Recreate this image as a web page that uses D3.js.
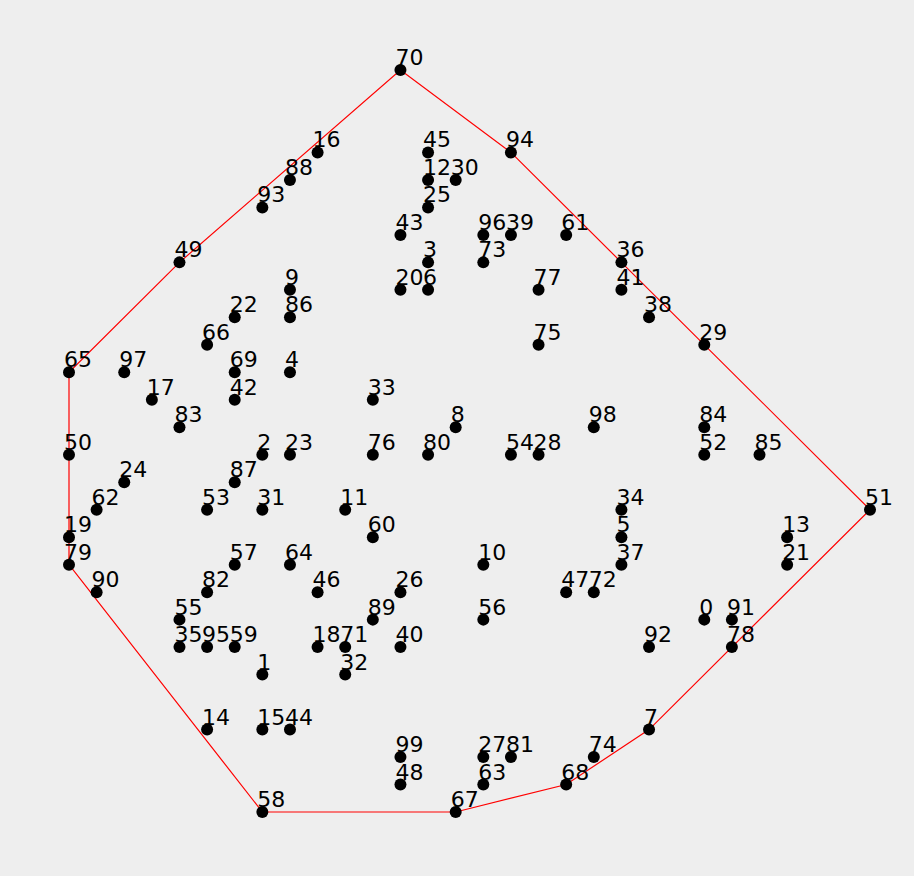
<!DOCTYPE html>
<html>
<head>
<meta charset="utf-8">
<script src="https://cdn.jsdelivr.net/npm/d3@7"></script>
<style>
html, body { margin: 0; padding: 0; background: #eeeeee; }
svg { display: block; }
</style>
</head>
<body>
<svg id="chart" width="914" height="876"></svg>
<script>
// Point labels and their grid coordinates (x: 0..29, y: 0..27, y downward)
const labels = [0,1,2,3,4,5,6,7,8,9,10,11,12,13,14,15,16,17,18,19,20,21,22,23,24,25,26,27,28,29,30,31,32,33,34,35,36,37,38,39,40,41,42,43,44,45,46,47,48,49,50,51,52,53,54,55,56,57,58,59,60,61,62,63,64,65,66,67,68,69,70,71,72,73,74,75,76,77,78,79,80,81,82,83,84,85,86,87,88,89,90,91,92,93,94,95,96,97,98,99];
const xs = [23,7,7,13,8,20,13,21,14,8,15,10,13,26,5,7,9,3,9,0,12,26,6,8,2,13,12,15,17,23,14,7,10,11,20,4,20,20,21,16,12,20,6,12,8,13,9,18,12,4,0,29,23,5,16,4,15,6,7,6,11,18,1,15,8,0,5,14,18,6,12,10,19,15,19,17,11,17,24,0,13,16,5,4,23,25,8,6,8,11,1,24,21,7,16,5,15,2,19,12];
const ys = [20,22,14,7,11,17,8,24,13,8,18,16,4,17,24,24,3,12,21,17,8,18,9,14,15,5,19,25,14,10,4,16,22,12,16,21,7,18,9,6,21,8,12,6,24,3,19,19,26,7,14,16,14,16,14,20,20,18,27,21,17,6,16,26,18,11,10,27,26,11,0,21,19,7,25,10,14,8,21,18,14,25,19,13,13,14,9,15,4,20,19,20,21,5,3,21,6,11,13,25];

const points = labels.map((l, i) => ({label: String(l), gx: xs[i], gy: ys[i]}));

const svg = d3.select("#chart");
const x = d3.scaleLinear().domain([0, 29]).range([69, 870]);
const y = d3.scaleLinear().domain([0, 27]).range([70, 812]);

// background
svg.append("rect").attr("width", 914).attr("height", 876).attr("fill", "#eeeeee");

// convex hull
const hull = d3.polygonHull(points.map(p => [x(p.gx), y(p.gy)]));
svg.append("path")
  .attr("d", "M" + hull.map(p => p.join(",")).join("L") + "Z")
  .attr("fill", "none")
  .attr("stroke", "#ff0000")
  .attr("stroke-width", 1.2);

// points
svg.append("g").selectAll("circle").data(points).join("circle")
  .attr("cx", d => x(d.gx))
  .attr("cy", d => y(d.gy))
  .attr("r", 6)
  .attr("fill", "#000");

// labels
svg.append("g").selectAll("text").data(points).join("text")
  .attr("x", d => x(d.gx) - 5)
  .attr("y", d => y(d.gy) - 5)
  .attr("font-family", "'DejaVu Sans', sans-serif")
  .attr("font-size", 22)
  .attr("fill", "#000")
  .text(d => d.label);
</script>
</body>
</html>
